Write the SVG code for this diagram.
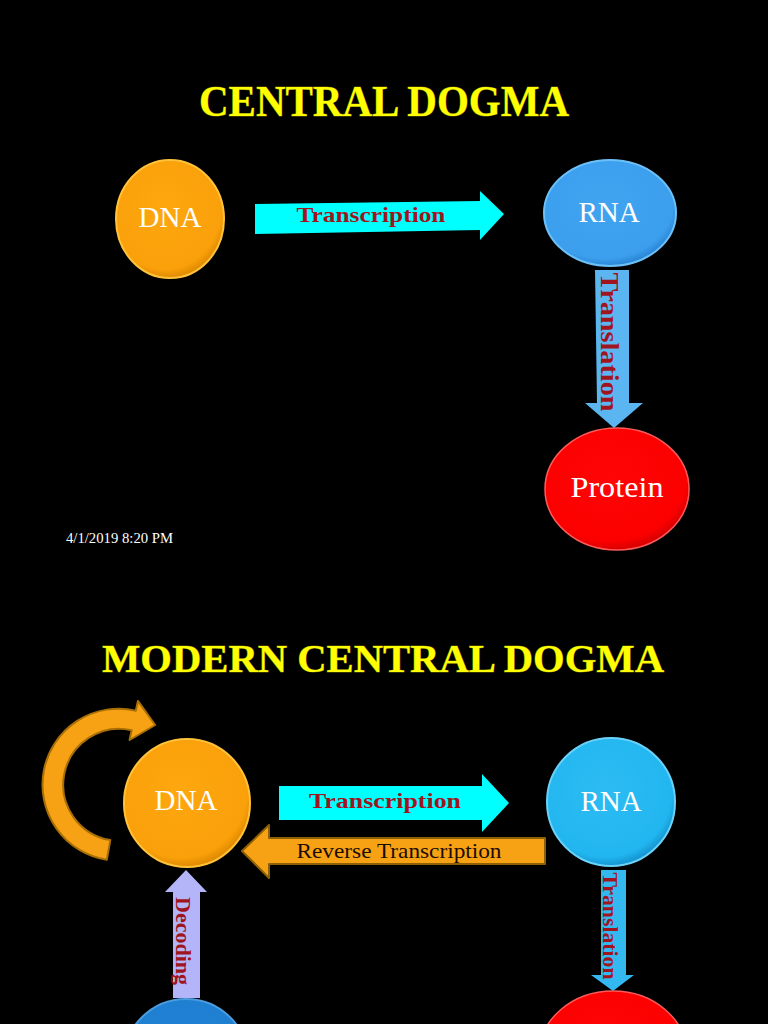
<svg xmlns="http://www.w3.org/2000/svg" width="768" height="1024" viewBox="0 0 768 1024">
<style>
.title{font-family:"Liberation Serif","DejaVu Serif",serif;font-weight:bold;fill:#FFFF00;stroke:#5c5c00;stroke-width:1;paint-order:stroke;text-anchor:middle;}
.node{font-family:"Liberation Serif","Times New Roman",serif;fill:#FFFFFF;text-anchor:middle;}
.lbl{font-family:"Liberation Serif","Times New Roman",serif;font-weight:bold;fill:#A0141E;text-anchor:middle;}
.rev{font-family:"Liberation Serif","Times New Roman",serif;fill:#1a0d00;text-anchor:middle;}
.date{font-family:"Liberation Serif","Times New Roman",serif;fill:#FFFFFF;}
</style>
<defs>
<radialGradient id="gOrange" cx="45%" cy="40%" r="60%"><stop offset="0" stop-color="#FFA70F"/><stop offset="0.88" stop-color="#F9A00A"/><stop offset="1" stop-color="#E08A00"/></radialGradient>
<radialGradient id="gBlue" cx="45%" cy="40%" r="60%"><stop offset="0" stop-color="#41A4F0"/><stop offset="0.88" stop-color="#3C9FEE"/><stop offset="1" stop-color="#2A86D6"/></radialGradient>
<radialGradient id="gRed" cx="45%" cy="40%" r="60%"><stop offset="0" stop-color="#FF0505"/><stop offset="0.88" stop-color="#FC0000"/><stop offset="1" stop-color="#D80000"/></radialGradient>
<radialGradient id="gCyan" cx="45%" cy="40%" r="60%"><stop offset="0" stop-color="#2CBCF2"/><stop offset="0.88" stop-color="#22B6F0"/><stop offset="1" stop-color="#1496D2"/></radialGradient>
<radialGradient id="gDBlue" cx="45%" cy="40%" r="60%"><stop offset="0" stop-color="#2283D6"/><stop offset="0.88" stop-color="#1E7ED0"/><stop offset="1" stop-color="#1565B0"/></radialGradient>
</defs>
<rect width="768" height="1024" fill="#000000"/>

<!-- Slide 1 -->
<text class="title" x="384" y="116" font-size="45" textLength="370" lengthAdjust="spacingAndGlyphs">CENTRAL DOGMA</text>

<g id="connectors1">
  <g id="arrow-transcription-1">
    <polygon points="255,204 480,201 480,191 504,214 480,240 480,230 255,234" fill="#00FFFF"/>
    <text class="lbl" x="371" y="222" font-size="21" textLength="149" lengthAdjust="spacingAndGlyphs">Transcription</text>
  </g>
  <g id="arrow-translation-1">
    <polygon points="595,270 629,270 629,403 643,403 614,428 585,403 597,403" fill="#5BB5F0"/>
    <text class="lbl" transform="translate(610,342) rotate(90)" x="0" y="0" dy="0.35em" font-size="25" textLength="139" lengthAdjust="spacingAndGlyphs">Translation</text>
  </g>
</g>

<g id="node-dna-1">
  <ellipse cx="170" cy="219" rx="54" ry="59" fill="url(#gOrange)" stroke="#FFC23A" stroke-width="2"/>
  <text class="node" x="170" y="227" font-size="29">DNA</text>
</g>
<g id="node-rna-1">
  <ellipse cx="610" cy="213" rx="66" ry="53" fill="url(#gBlue)" stroke="#6CC0F8" stroke-width="2"/>
  <text class="node" x="609" y="222" font-size="29">RNA</text>
</g>
<g id="node-protein-1">
  <ellipse cx="617" cy="489" rx="72" ry="61" fill="url(#gRed)" stroke="#FF5A5A" stroke-width="1.5"/>
  <text class="node" x="617" y="497" font-size="30" textLength="93" lengthAdjust="spacingAndGlyphs">Protein</text>
</g>

<text class="date" x="66" y="543" font-size="14.5" textLength="107" lengthAdjust="spacingAndGlyphs">4/1/2019 8:20 PM</text>

<!-- Slide 2 -->
<text class="title" x="383" y="672" font-size="41" textLength="562" lengthAdjust="spacingAndGlyphs">MODERN CENTRAL DOGMA</text>

<g id="connectors2">
  <g id="arrow-replication">
    <path d="M106.8,859.8 A76,76 0 1 1 135.8,710.7 L137.9,700.9 L155.2,725 L129.6,740 L131.6,730.2 A56,56 0 1 0 110.3,840.1 Z" fill="#F7A215" stroke="#A86F06" stroke-width="2" stroke-linejoin="round"/>
  </g>
  <g id="arrow-transcription-2">
    <polygon points="279,786 482,786 482,774 509,803 482,832 482,820 279,820" fill="#00FFFF"/>
    <text class="lbl" x="385" y="808" font-size="21" textLength="152" lengthAdjust="spacingAndGlyphs">Transcription</text>
  </g>
  <g id="arrow-reverse-transcription">
    <polygon points="545,838 269,838 269,825 242,851 269,878 269,864 545,864" fill="#F7A215" stroke="#8E6006" stroke-width="2" stroke-linejoin="round"/>
    <text class="rev" x="399" y="858" font-size="22" textLength="205" lengthAdjust="spacingAndGlyphs">Reverse Transcription</text>
  </g>
  <g id="arrow-translation-2">
    <polygon points="601,870 626,870 626,975 634,975 613,991 591,975 601,975" fill="#34B8F0"/>
    <text class="lbl" transform="translate(610,926) rotate(90)" x="0" y="0" dy="0.35em" font-size="21" textLength="107" lengthAdjust="spacingAndGlyphs">Translation</text>
  </g>
  <g id="arrow-decoding">
    <polygon points="173,998 200,998 200,892 207,892 186,870 165,892 173,892" fill="#B4B4F8"/>
    <text class="lbl" transform="translate(184,941) rotate(90)" x="0" y="0" dy="0.35em" font-size="22" textLength="88" lengthAdjust="spacingAndGlyphs">Decoding</text>
  </g>
</g>

<g id="node-dna-2">
  <ellipse cx="187" cy="803" rx="63" ry="64" fill="url(#gOrange)" stroke="#FFC23A" stroke-width="2"/>
  <text class="node" x="186" y="810" font-size="29">DNA</text>
</g>
<g id="node-rna-2">
  <ellipse cx="611" cy="802" rx="64" ry="64" fill="url(#gCyan)" stroke="#6AD2F8" stroke-width="2"/>
  <text class="node" x="611" y="811" font-size="29">RNA</text>
</g>
<g id="node-protein-2">
  <ellipse cx="613" cy="1055" rx="74" ry="64" fill="url(#gRed)" stroke="#FF5A5A" stroke-width="1.5"/>
</g>
<g id="node-bottom-blue">
  <ellipse cx="186" cy="1063" rx="63" ry="64" fill="url(#gDBlue)" stroke="#4A9CE0" stroke-width="2"/>
</g>
</svg>
